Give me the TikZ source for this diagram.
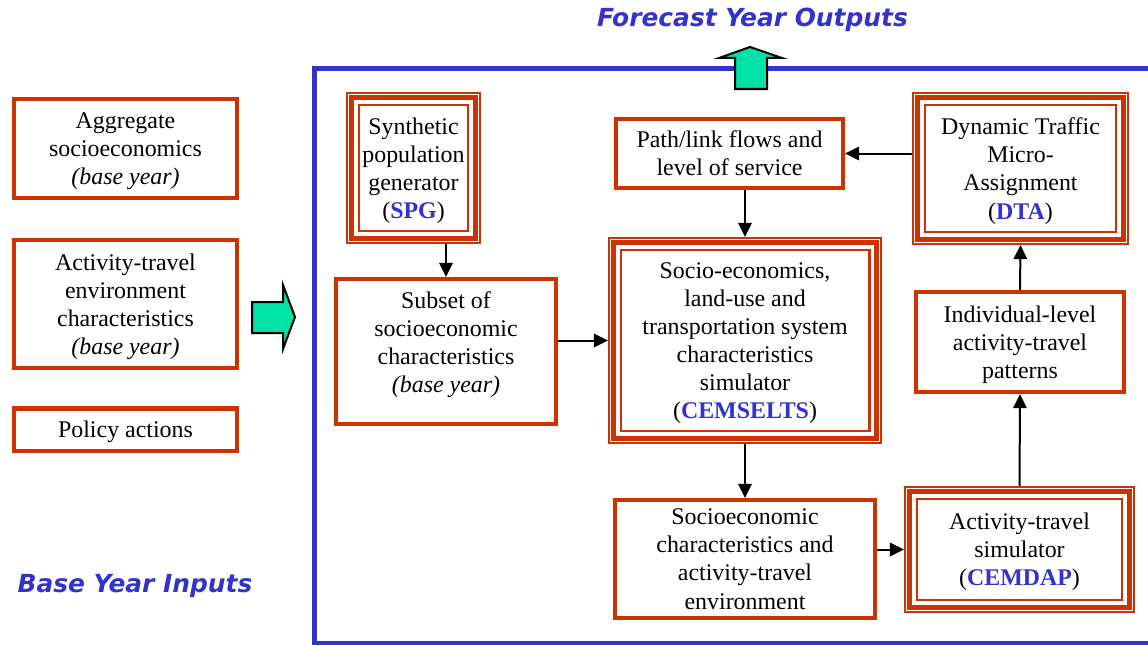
\documentclass[tikz,border=0pt]{standalone}
\usepackage{fontspec}
\setmainfont{Liberation Serif}
\newfontfamily\headfont{DejaVu Sans}
\usetikzlibrary{arrows.meta, calc}

\definecolor{boxred}{RGB}{204,51,0}
\definecolor{headblue}{RGB}{51,51,204}
\definecolor{arrowgreen}{RGB}{0,226,166}

% one pixel of the page
\newdimen\px
\px=0.71132pt

\newcommand{\boxfont}{\fontsize{17}{20}\selectfont}
\newcommand{\acr}[1]{\textcolor{headblue}{\textbf{#1}}}

% inner lines of a triple box
\newcommand{\tripleframe}[1]{%
    \draw[boxred, line width=5*\px] ($(#1.north west)+(6,6)$) rectangle ($(#1.south east)+(-6,-6)$);
    \draw[boxred, line width=2.5*\px] ($(#1.north west)+(12.8,12.8)$) rectangle ($(#1.south east)+(-12.8,-12.8)$);
}

\begin{document}
\begin{tikzpicture}[
    x=0.025cm, y=-0.025cm,
    % Styles des boites et des fleches
    box/.style={draw=boxred, line width=4.5*\px, fill=white, inner sep=0pt, align=center, font=\boxfont, text depth=-1.5pt},
    triplebox/.style={draw=boxred, line width=2*\px, fill=white, inner sep=0pt, align=center, font=\boxfont, text depth=-1.5pt},
    txt/.style={inner sep=0pt, align=center, font=\boxfont},
    link/.style={line width=2*\px, -{Triangle[length=10pt, width=9.5pt]}},
    blockarrow/.style={fill=arrowgreen, draw=black, line width=2*\px, line join=miter},
    headtext/.style={font=\headfont\bfseries\itshape\fontsize{17.7}{20}\selectfont, text=headblue, inner sep=0pt}
]

    \useasboundingbox (0,0) rectangle (1148,644);

    % Frame of the model system

    \draw[headblue, line width=5.5*\px] (314.5,68.5) rectangle (1170,643.5);


    % Inputs

    \node[box, minimum width=222.5*\px, minimum height=98.5*\px, text depth=-3pt] (aggregate) at (125.5,148.5)
        {Aggregate\\socioeconomics\\\textit{(base year)}};
    \node[box, minimum width=222.5*\px, minimum height=127.5*\px] (environment) at (125.5,304)
        {Activity-travel\\environment\\characteristics\\\textit{(base year)}};
    \node[box, minimum width=222.5*\px, minimum height=42.5*\px] (policy) at (125.5,429.5)
        {Policy actions};

    \node[headtext, anchor=base] (inputs) at (135,592) {Base Year Inputs};


    % Block arrows

    %% Inputs into the system
    \filldraw[blockarrow] (252,302) -- (283,302) -- (283,285) -- (295,317)
        -- (283,349) -- (283,333) -- (252,333) -- cycle;

    %% Outputs from the system
    \filldraw[blockarrow] (735,89) -- (767,89) -- (767,58) -- (782,58)
        -- (750,47) -- (719,58) -- (735,58) -- cycle;

    \node[headtext, anchor=base] (outputs) at (752.5,27) {Forecast Year Outputs};


    % Model components

    %% Triple boxes
    \node[triplebox, minimum width=133*\px, minimum height=150*\px] (spg) at (413.5,168)
        {Synthetic\\population\\generator\\(\acr{SPG})};
    \tripleframe{spg}

    \node[triplebox, minimum width=272*\px, minimum height=205*\px] (cemselts) at (745,340.5)
        {Socio-economics,\\land-use and\\transportation system\\characteristics\\simulator\\(\acr{CEMSELTS})};
    \tripleframe{cemselts}

    \node[triplebox, minimum width=215*\px, minimum height=151*\px] (dta) at (1020.5,168.5)
        {Dynamic Traffic\\Micro-\\Assignment\\(\acr{DTA})};
    \tripleframe{dta}

    \node[triplebox, minimum width=229*\px, minimum height=125*\px] (cemdap) at (1019.5,549.5)
        {Activity-travel\\simulator\\(\acr{CEMDAP})};
    \tripleframe{cemdap}

    %% Single boxes
    \node[box, minimum width=219.5*\px, minimum height=144.5*\px] (subset) at (446,351.5) {};
    \node[txt] (subsettext) at (446,344.5)
        {Subset of\\socioeconomic\\characteristics\\\textit{(base year)}};

    \node[box, minimum width=226.5*\px, minimum height=68.5*\px, text depth=1pt] (flows) at (729.5,153.5)
        {Path/link flows and\\level of service};

    \node[box, minimum width=259.5*\px, minimum height=117.5*\px, text depth=-5pt] (socio) at (745,559)
        {Socioeconomic\\characteristics and\\activity-travel\\environment};

    \node[box, minimum width=207.5*\px, minimum height=99.5*\px] (patterns) at (1020,342)
        {Individual-level\\activity-travel\\patterns};


    % Links

    \draw[link] (spg.south -| subset.north) -- (subset.north);
    \draw[link] (subset.east |- cemselts.west) -- (cemselts.west);
    \draw[link] (dta.west |- flows.east) -- (flows.east);
    \draw[link] (flows.south -| cemselts.north) -- (cemselts.north);
    \draw[link] (cemselts.south) -- (socio.north);
    \draw[link] (socio.east |- cemdap.west) -- (cemdap.west);
    \draw[link] (cemdap.north) -- (patterns.south);
    \draw[link] (patterns.north) -- (dta.south);

\end{tikzpicture}
\end{document}
